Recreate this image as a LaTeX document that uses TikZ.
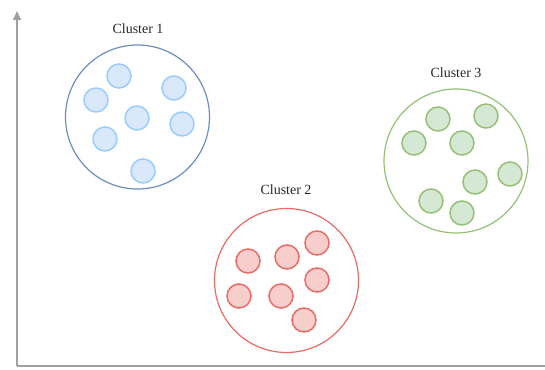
\documentclass[tikz,border=0pt]{standalone}
\usepackage{fontspec}
\setmainfont{Liberation Serif}
\usetikzlibrary{arrows.meta}
\definecolor{axisgray}{HTML}{A0A0A0}
\definecolor{bluefill}{HTML}{DAE8FC}
\definecolor{bluedot}{HTML}{99CCFF}
\definecolor{bluebig}{HTML}{6C8EBF}
\definecolor{redfill}{HTML}{F8CECC}
\definecolor{reddot}{HTML}{EA6B66}
\definecolor{redbig}{HTML}{EA6B66}
\definecolor{greenfill}{HTML}{D5E8D4}
\definecolor{greendot}{HTML}{97C077}
\definecolor{greenbig}{HTML}{97C077}
\begin{document}
\begin{tikzpicture}[x=1pt,y=-1pt,
  bigcirc/.style={circle,draw,line width=1.2pt,minimum size=144pt,inner sep=0pt},
  dot/.style={circle,draw,line width=1.5pt,minimum size=24pt,inner sep=0pt},
  bdot/.style={dot,fill=bluefill,draw=bluedot},
  rdot/.style={dot,fill=redfill,draw=reddot},
  gdot/.style={dot,fill=greenfill,draw=greendot},
  lbl/.style={font=\fontsize{14}{16}\selectfont,text=black!85},
  axis/.style={draw=axisgray,line width=1.6pt}]
\useasboundingbox (0,0) rectangle (545,369);
\coordinate (o) at (17,366);
\coordinate (ytop) at (17,11);
\coordinate (xend) at (547,366);
\draw[axis,-{Triangle[length=9pt,width=8pt]}] (o) -- (ytop);
\draw[axis] (o) -- (xend);
% Cluster 1
\node[bigcirc,draw=bluebig] (c1) at (137.5,117) {};
\node[lbl] (l1) at (138,29) {Cluster 1};
\node[bdot] (b1) at (119,76) {};
\node[bdot] (b2) at (96,100) {};
\node[bdot] (b3) at (174,88) {};
\node[bdot] (b4) at (137,118) {};
\node[bdot] (b5) at (182,124) {};
\node[bdot] (b6) at (105,139) {};
\node[bdot] (b7) at (143,171) {};
% Cluster 2
\node[bigcirc,draw=redbig] (c2) at (286.5,280.5) {};
\node[lbl] (l2) at (286,190) {Cluster 2};
\node[rdot] (r1) at (248,261) {};
\node[rdot] (r2) at (287,257) {};
\node[rdot] (r3) at (317,243) {};
\node[rdot] (r4) at (317,280) {};
\node[rdot] (r5) at (239,296) {};
\node[rdot] (r6) at (281,296) {};
\node[rdot] (r7) at (304,320) {};
% Cluster 3
\node[bigcirc,draw=greenbig] (c3) at (456,161) {};
\node[lbl] (l3) at (456,73) {Cluster 3};
\node[gdot] (g1) at (438,119) {};
\node[gdot] (g2) at (486,116) {};
\node[gdot] (g3) at (414,143) {};
\node[gdot] (g4) at (462,143) {};
\node[gdot] (g5) at (510,174) {};
\node[gdot] (g6) at (475,182) {};
\node[gdot] (g7) at (431,201) {};
\node[gdot] (g8) at (462,213) {};
\end{tikzpicture}
\end{document}
